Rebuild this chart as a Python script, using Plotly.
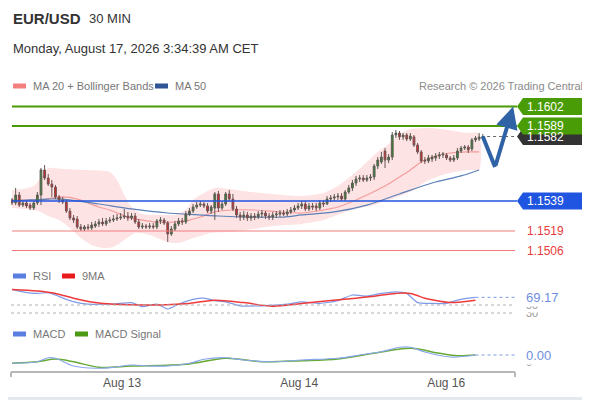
import plotly.graph_objects as go

# ---------------- data ----------------
opens = [1.15397,1.15377,1.15430,1.15363,1.15377,1.15363,1.15343,1.15377,1.15430,1.15597,
         1.15543,1.15503,1.15483,1.15417,1.15397,1.15383,1.15323,1.15277,1.15270,1.15217,
         1.15203,1.15217,1.15210,1.15223,1.15237,1.15250,1.15237,1.15257,1.15263,1.15270,
         1.15277,1.15283,1.15290,1.15277,1.15290,1.15250,1.15217,1.15223,1.15217,1.15223,
         1.15217,1.15257,1.15263,1.15243,1.15170,1.15203,1.15237,1.15257,1.15250,1.15303,
         1.15323,1.15350,1.15363,1.15370,1.15357,1.15323,1.15343,1.15437,1.15343,1.15370,
         1.15437,1.15403,1.15337,1.15297,1.15283,1.15297,1.15277,1.15290,1.15283,1.15303,
         1.15310,1.15290,1.15283,1.15297,1.15303,1.15310,1.15303,1.15317,1.15330,1.15343,
         1.15357,1.15370,1.15337,1.15357,1.15357,1.15343,1.15377,1.15370,1.15403,1.15410,
         1.15417,1.15423,1.15403,1.15450,1.15477,1.15510,1.15537,1.15543,1.15530,1.15543,
         1.15550,1.15623,1.15650,1.15723,1.15663,1.15683,1.15830,1.15843,1.15817,1.15830,
         1.15803,1.15817,1.15763,1.15717,1.15663,1.15657,1.15670,1.15677,1.15690,1.15697,
         1.15697,1.15677,1.15663,1.15677,1.15723,1.15743,1.15750,1.15737,1.15797,1.15803,
         1.15810]
highs = [1.15410,1.15477,1.15450,1.15390,1.15390,1.15377,1.15390,1.15450,1.15610,1.15630,
         1.15570,1.15530,1.15497,1.15430,1.15417,1.15397,1.15343,1.15297,1.15290,1.15237,
         1.15230,1.15237,1.15250,1.15257,1.15270,1.15277,1.15277,1.15283,1.15297,1.15303,
         1.15310,1.15337,1.15317,1.15310,1.15310,1.15270,1.15243,1.15237,1.15243,1.15243,
         1.15270,1.15283,1.15277,1.15257,1.15223,1.15257,1.15277,1.15277,1.15323,1.15343,
         1.15370,1.15383,1.15390,1.15383,1.15377,1.15363,1.15450,1.15457,1.15390,1.15450,
         1.15463,1.15437,1.15357,1.15317,1.15323,1.15317,1.15310,1.15310,1.15323,1.15330,
         1.15323,1.15310,1.15317,1.15323,1.15330,1.15330,1.15337,1.15350,1.15363,1.15377,
         1.15390,1.15390,1.15377,1.15377,1.15377,1.15397,1.15397,1.15423,1.15430,1.15437,
         1.15443,1.15443,1.15463,1.15497,1.15530,1.15557,1.15563,1.15563,1.15563,1.15570,
         1.15637,1.15683,1.15717,1.15743,1.15703,1.15850,1.15863,1.15857,1.15843,1.15843,
         1.15843,1.15830,1.15777,1.15730,1.15683,1.15697,1.15697,1.15710,1.15717,1.15717,
         1.15710,1.15690,1.15697,1.15743,1.15757,1.15763,1.15763,1.15810,1.15823,1.15843,
         1.15837]
lows = [1.15363,1.15363,1.15350,1.15350,1.15343,1.15330,1.15330,1.15363,1.15363,1.15530,
        1.15490,1.15417,1.15403,1.15377,1.15370,1.15310,1.15263,1.15243,1.15203,1.15190,
        1.15190,1.15197,1.15197,1.15210,1.15217,1.15223,1.15223,1.15243,1.15250,1.15257,
        1.15263,1.15270,1.15257,1.15263,1.15237,1.15203,1.15203,1.15203,1.15203,1.15203,
        1.15203,1.15237,1.15230,1.15117,1.15157,1.15190,1.15223,1.15230,1.15237,1.15290,
        1.15310,1.15337,1.15350,1.15343,1.15310,1.15303,1.15263,1.15317,1.15330,1.15357,
        1.15383,1.15323,1.15277,1.15257,1.15263,1.15257,1.15257,1.15263,1.15270,1.15277,
        1.15270,1.15263,1.15263,1.15277,1.15283,1.15290,1.15290,1.15303,1.15317,1.15330,
        1.15337,1.15323,1.15323,1.15330,1.15323,1.15330,1.15350,1.15363,1.15383,1.15390,
        1.15397,1.15390,1.15390,1.15437,1.15457,1.15490,1.15517,1.15517,1.15517,1.15523,
        1.15530,1.15603,1.15637,1.15610,1.15643,1.15663,1.15810,1.15797,1.15797,1.15790,
        1.15790,1.15750,1.15703,1.15643,1.15637,1.15643,1.15650,1.15657,1.15670,1.15677,
        1.15663,1.15650,1.15650,1.15663,1.15710,1.15730,1.15710,1.15723,1.15783,1.15790,
        1.15797]
closes = [1.15377,1.15430,1.15363,1.15377,1.15357,1.15343,1.15377,1.15430,1.15597,1.15543,
          1.15503,1.15483,1.15417,1.15397,1.15383,1.15323,1.15277,1.15263,1.15217,1.15203,
          1.15217,1.15210,1.15230,1.15237,1.15250,1.15237,1.15257,1.15263,1.15270,1.15277,
          1.15283,1.15290,1.15277,1.15290,1.15250,1.15217,1.15223,1.15217,1.15223,1.15217,
          1.15257,1.15263,1.15243,1.15170,1.15203,1.15237,1.15257,1.15250,1.15303,1.15323,
          1.15350,1.15363,1.15370,1.15357,1.15323,1.15350,1.15437,1.15343,1.15370,1.15437,
          1.15403,1.15337,1.15297,1.15283,1.15297,1.15277,1.15290,1.15283,1.15303,1.15310,
          1.15290,1.15283,1.15297,1.15303,1.15310,1.15303,1.15317,1.15330,1.15343,1.15357,
          1.15370,1.15337,1.15357,1.15350,1.15343,1.15377,1.15370,1.15403,1.15410,1.15417,
          1.15423,1.15403,1.15450,1.15477,1.15510,1.15537,1.15543,1.15530,1.15543,1.15550,
          1.15623,1.15663,1.15683,1.15663,1.15683,1.15830,1.15843,1.15817,1.15830,1.15803,
          1.15823,1.15763,1.15717,1.15657,1.15657,1.15677,1.15683,1.15690,1.15697,1.15703,
          1.15677,1.15663,1.15677,1.15723,1.15743,1.15750,1.15730,1.15797,1.15810,1.15817,
          1.15820]

ma20_idx = [0,8,11,14,18,24,27,32,36,40,45,49,52,56,61,67,74,80,86,90,95,98,103,107,110,113,117,121,126,129]
ma20 = [1.15397,1.15397,1.15410,1.15417,1.15403,1.15350,1.15330,1.15283,1.15263,1.15250,
        1.15250,1.15263,1.15283,1.15317,1.15330,1.15330,1.15317,1.15310,1.15330,1.15350,
        1.15397,1.15430,1.15490,1.15550,1.15597,1.15650,1.15690,1.15710,1.15717,1.15717]

bb_up_idx = [0,3,6,8,10,14,20,27,29,31,33,36,42,45,48,50,52,56,60,66,75,80,86,90,95,98,101,104,107,110,116,122,126,129]
bb_up = [1.15463,1.15470,1.15490,1.15543,1.15610,1.15603,1.15597,1.15583,1.15530,1.15430,
         1.15350,1.15303,1.15297,1.15297,1.15330,1.15397,1.15430,1.15477,1.15470,1.15450,
         1.15430,1.15423,1.15443,1.15490,1.15583,1.15650,1.15717,1.15770,1.15837,1.15870,
         1.15877,1.15857,1.15843,1.15843]
bb_lo_idx = [0,3,6,8,10,13,16,19,22,25,28,31,34,38,43,46,50,55,60,65,72,80,86,92,96,100,104,108,111,114,118,122,126,129]
bb_lo = [1.15343,1.15337,1.15330,1.15317,1.15290,1.15263,1.15210,1.15143,1.15097,1.15077,
         1.15083,1.15130,1.15177,1.15163,1.15117,1.15110,1.15143,1.15177,1.15183,1.15197,
         1.15223,1.15237,1.15263,1.15317,1.15343,1.15363,1.15397,1.15430,1.15463,1.15517,
         1.15557,1.15583,1.15597,1.15597]

ma50_idx = [0,5,10,14,24,33,43,48,57,66,75,80,89,98,107,116,124,129]
ma50 = [1.15390,1.15397,1.15403,1.15403,1.15370,1.15337,1.15310,1.15303,1.15290,1.15283,
        1.15283,1.15297,1.15317,1.15363,1.15437,1.15510,1.15557,1.15597]

rsi_idx = [0,3,7,10,12,15,18,21,28,33,36,40,43,46,50,53,56,59,63,69,76,80,85,90,94,98,102,106,109,112,116,120,123,126,128]
rsi = [89,83,79,81,75,64,56,52,52.5,56,46,52,40,52,64,67,61,58,48,48,52,58,54,61,75,72,79,83,79,56,54,54,62,67,69.17]
rsi_ma_idx = [0,7,12,17,23,28,38,49,56,64,72,80,88,95,100,106,110,114,116,121,128]
rsi_ma = [89,85,79,67,56,52,50,54,62,56,47,54,61,67,72,79,79,67,63,56,62]

macd_idx = [0,7,10,12,17,23,28,33,38,43,49,53,59,64,72,80,90,96,102,107,110,114,121,128]
macd = [-0.00005,0.00001,0.00017,0.00015,-0.00016,-0.00025,-0.00021,-0.00012,-0.00016,-0.00016,
        -0.00005,0.00011,0.00017,0.00008,0.00001,0.00008,0.00015,0.00028,0.00041,0.00059,
        0.00059,0.00040,0.00020,0.00028]
signal_idx = [0,7,12,17,24,33,43,49,59,69,80,90,100,110,118,123,128]
signal = [-0.00005,0.00001,0.00012,0.00001,-0.00021,-0.00016,-0.00013,-0.00008,0.00015,0.00001,
          0.00005,0.00012,0.00035,0.00055,0.00035,0.00025,0.00028]

levels = [1.1602, 1.1589, 1.1539, 1.1519, 1.1506]
level_kind = ["res", "res", "pivot", "sup", "sup"]

proj_idx = [130, 133.4, 138.4]
proj_price = [1.1582, 1.15617, 1.1602]

tick_idx = [30.4, 79.3, 119.9]
tick_labels = ["Aug 13", "Aug 14", "Aug 16"]

# ---------------- layout geometry ----------------
# the page keeps an 8px body margin, so the figure is drawn 8px smaller
# and all helper positions below are in reference-picture pixels.
PAGE_OFF = 8
W, H = 590 - PAGE_OFF, 400 - PAGE_OFF
PL, PR, PT, PB = 11, 515, 95, 372       # plot area edges in reference pixels
PW = PR - PL
PH = PB - PT


def px(x):
    return (x - PL) / PW


def py(y):
    return (PB - y) / PH


FONT = "Liberation Sans, Arial, sans-serif"
x_range = [-0.28, 138.9]
main_range = [1.149833, 1.160967]
rsi_range = [0, 100]
macd_range = [-0.00036, 0.00076]
PIX = (main_range[1] - main_range[0]) / (262 - 95)  # price per pixel

GREEN = "#4a9c06"
BLUE_LVL = "#1f55e0"
RED_LVL = "#f07a7a"

idx = list(range(len(closes)))

fig = go.Figure()

# Bollinger band area + moving averages (bottom subplot layer)
fig.add_trace(go.Scatter(
    x=bb_up_idx + bb_lo_idx[::-1], y=bb_up + bb_lo[::-1],
    fill="toself", fillcolor="#fde3e3", line=dict(width=0, shape="spline", smoothing=0.6),
    mode="lines", hoverinfo="skip", showlegend=False))
fig.add_trace(go.Scatter(x=ma20_idx, y=ma20, mode="lines",
                         line=dict(color="#f59c9c", width=1.2, shape="spline", smoothing=0.8),
                         showlegend=False))
fig.add_trace(go.Scatter(x=ma50_idx, y=ma50, mode="lines",
                         line=dict(color="#5c80b8", width=1.2, shape="spline", smoothing=0.8),
                         showlegend=False))

# candles on an overlaid axis so they are drawn above the band
fig.add_trace(go.Candlestick(
    x=idx, open=opens, high=highs, low=lows, close=closes, yaxis="y4",
    increasing=dict(line=dict(color="#5e5a55", width=1), fillcolor="#2f8a2f"),
    decreasing=dict(line=dict(color="#6e5555", width=1), fillcolor="#e02222"),
    whiskerwidth=0, showlegend=False))

# projection
fig.add_trace(go.Scatter(x=proj_idx[:2], y=proj_price[:2], mode="lines", yaxis="y4",
                         line=dict(color="#2f63a6", width=4), showlegend=False))

# RSI
fig.add_trace(go.Scatter(x=rsi_idx, y=rsi, mode="lines", yaxis="y2",
                         line=dict(color="#7d9be6", width=1.2, shape="spline", smoothing=0.5),
                         showlegend=False))
fig.add_trace(go.Scatter(x=rsi_ma_idx, y=rsi_ma, mode="lines", yaxis="y2",
                         line=dict(color="#ee3a3a", width=1.5, shape="spline", smoothing=0.9),
                         showlegend=False))
# MACD
fig.add_trace(go.Scatter(x=signal_idx, y=signal, mode="lines", yaxis="y3",
                         line=dict(color="#66aa33", width=1.5, shape="spline", smoothing=0.9),
                         showlegend=False))
fig.add_trace(go.Scatter(x=macd_idx, y=macd, mode="lines", yaxis="y3",
                         line=dict(color="#8aa6ee", width=1.2, shape="spline", smoothing=0.9),
                         showlegend=False))

shapes = []
anns = []

# outer frame (right and bottom edges fall inside the figure)
shapes.append(dict(type="line", xref="paper", yref="paper", x0=px(588.5), x1=px(588.5), y0=py(0), y1=py(400),
                   line=dict(color="#e4e9ef", width=3), layer="below"))
shapes.append(dict(type="line", xref="paper", yref="paper", x0=px(0), x1=px(590), y0=py(398.5), y1=py(398.5),
                   line=dict(color="#e4e9ef", width=3), layer="below"))

# level lines
for lvl, kind in zip(levels, level_kind):
    if kind == "res":
        col, wd, xe = GREEN, 2, 517
    elif kind == "pivot":
        col, wd, xe = BLUE_LVL, 1.5, 517
    else:
        col, wd, xe = RED_LVL, 1, 515
    shapes.append(dict(type="line", xref="paper", yref="y", x0=px(12), x1=px(xe), y0=lvl, y1=lvl,
                       line=dict(color=col, width=wd), layer="above"))

# last price dotted line
last = closes[-1]
shapes.append(dict(type="line", xref="paper", yref="y",
                   x0=px(PL + (idx[-1] + 1.2 - x_range[0]) * PW / (x_range[1] - x_range[0])), x1=px(517),
                   y0=last, y1=last, line=dict(color="#666666", width=1, dash="dot"), layer="above"))


def tag(yv, color):
    h = 8.5 * PIX
    path = (f"M {px(517)},{yv} L {px(523)},{yv + h} L {px(586)},{yv + h} "
            f"L {px(586)},{yv - h} L {px(523)},{yv - h} Z")
    shapes.append(dict(type="path", xref="paper", yref="y", path=path,
                       fillcolor=color, line=dict(width=0), layer="above"))
    anns.append(dict(text=f"{yv:.4f}", xref="paper", yref="y", x=px(525), y=yv,
                     xanchor="left", yanchor="middle", showarrow=False,
                     font=dict(family=FONT, size=12, color="white")))


tag(last, "#333333")
for lvl, kind in zip(levels, level_kind):
    if kind == "res":
        tag(lvl, GREEN)
    elif kind == "pivot":
        tag(lvl, BLUE_LVL)
    else:
        anns.append(dict(text=f"{lvl:.4f}", xref="paper", yref="y", x=px(525), y=lvl,
                         xanchor="left", yanchor="middle", showarrow=False,
                         font=dict(family=FONT, size=12, color="#e83b3b")))

# projection arrow head
anns.append(dict(x=proj_idx[2], y=proj_price[2], ax=proj_idx[1], ay=proj_price[1],
                 xref="x", yref="y", axref="x", ayref="y", text="", showarrow=True,
                 arrowhead=2, arrowsize=1.1, arrowwidth=4, arrowcolor="#2f63a6"))

# RSI levels
for lv in (50, 30):
    shapes.append(dict(type="line", xref="paper", yref="y2", x0=0, x1=1, y0=lv, y1=lv,
                       line=dict(color="#b0b0b0", width=1, dash="dot")))
shapes.append(dict(type="line", xref="x", yref="y2", x0=rsi_idx[-1], x1=x_range[1],
                   y0=rsi[-1], y1=rsi[-1], line=dict(color="#7d9be6", width=1, dash="dot")))
shapes.append(dict(type="line", xref="x", yref="y3", x0=macd_idx[-1], x1=x_range[1],
                   y0=macd[-1], y1=macd[-1], line=dict(color="#7d9be6", width=1, dash="dot")))

anns.append(dict(text="30", xref="paper", yref="y2", x=px(524), y=30, xanchor="left", yanchor="middle",
                 showarrow=False, font=dict(family=FONT, size=11, color="#999999"), bgcolor="white"))
anns.append(dict(text="50", xref="paper", yref="y2", x=px(524), y=50, xanchor="left", yanchor="middle",
                 showarrow=False, font=dict(family=FONT, size=11, color="#999999"), bgcolor="white"))
anns.append(dict(text=f"{rsi[-1]:.2f}", xref="paper", yref="y2", x=px(524), y=rsi[-1], xanchor="left",
                 yanchor="middle", showarrow=False, font=dict(family=FONT, size=13, color="#6f8fe0"),
                 bgcolor="white"))
anns.append(dict(text="0", xref="paper", yref="y3", x=px(524), y=0, xanchor="left", yanchor="middle",
                 showarrow=False, font=dict(family=FONT, size=11, color="#999999"), bgcolor="white"))
anns.append(dict(text=f"{macd[-1]:.2f}", xref="paper", yref="y3", x=px(524), y=macd[-1], xanchor="left",
                 yanchor="middle", showarrow=False, font=dict(family=FONT, size=13, color="#6f8fe0"),
                 bgcolor="white"))


def text(t, xp, yp, size=11, color="#666666", xanchor="left"):
    anns.append(dict(text=t, xref="paper", yref="paper", x=px(xp), y=py(yp), xanchor=xanchor,
                     yanchor="middle", showarrow=False, font=dict(family=FONT, size=size, color=color)))


def swatch(x0, x1, yc, color):
    shapes.append(dict(type="rect", xref="paper", yref="paper", x0=px(x0), x1=px(x1),
                       y0=py(yc + 2.5), y1=py(yc - 2.5), fillcolor=color, line=dict(width=0)))


text("<b>EUR/USD</b>", 11, 18, 15, "#333333")
text("30 MIN", 87, 18, 13, "#333333")
text("Monday, August 17, 2026 3:34:39 AM CET", 11, 48, 13, "#333333")

swatch(13, 26, 86, "#f47f7f")
text("MA 20 + Bollinger Bands", 31, 86, 11, "#777777")
swatch(155, 168, 86, "#2f5597")
text("MA 50", 173, 86, 11, "#777777")
text("Research © 2026 Trading Central", 585, 86, 11, "#8a8a8a", xanchor="right")

swatch(13, 26, 276, "#5b7fe0")
text("RSI", 31, 276, 11, "#777777")
swatch(62, 75, 276, "#e81c1c")
text("9MA", 80, 276, 11, "#777777")

swatch(13, 26, 334, "#5b7fe0")
text("MACD", 31, 334, 11, "#777777")
swatch(75, 88, 334, "#4a9a16")
text("MACD Signal", 93, 334, 11, "#777777")

# axis end ticks
for xe in (PL, PR):
    shapes.append(dict(type="line", xref="paper", yref="paper", x0=px(xe), x1=px(xe),
                       y0=py(372), y1=py(377), line=dict(color="#b8b8b8", width=2)))

fig.update_layout(
    width=W, height=H,
    margin=dict(l=PL - PAGE_OFF, r=(590 - PR), t=PT - PAGE_OFF, b=(400 - PB)),
    paper_bgcolor="white", plot_bgcolor="white",
    showlegend=False,
    font=dict(family=FONT),
    xaxis=dict(domain=[0, 1], range=x_range, anchor="free", position=0,
               showline=True, linecolor="#b8b8b8", linewidth=2,
               tickmode="array", tickvals=tick_idx, ticktext=tick_labels, ticks="",
               tickfont=dict(family=FONT, size=12, color="#555555"),
               showgrid=False, zeroline=False, fixedrange=True,
               rangeslider=dict(visible=False)),
    yaxis=dict(domain=[py(262), 1], range=main_range, visible=False, fixedrange=True),
    yaxis4=dict(domain=[py(262), 1], range=main_range, visible=False, fixedrange=True,
                overlaying="y", anchor="x"),
    yaxis2=dict(domain=[py(325), py(285)], range=rsi_range, visible=False, anchor="x", fixedrange=True),
    yaxis3=dict(domain=[py(371), py(343)], range=macd_range, visible=False, anchor="x", fixedrange=True),
    shapes=shapes,
    annotations=anns,
)

fig.write_html("out.html")
